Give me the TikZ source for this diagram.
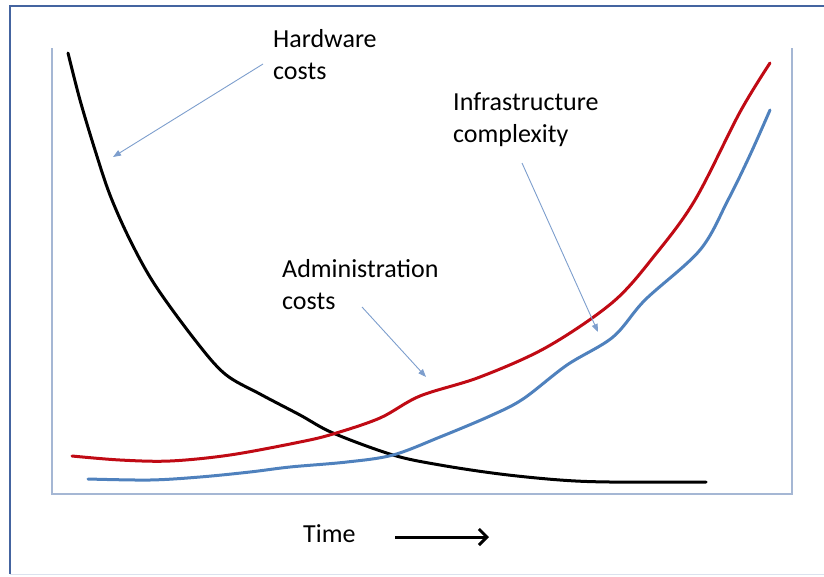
\documentclass[tikz,border=0pt]{standalone}
\usepackage{fontspec}
\setmainfont{Carlito}
\usetikzlibrary{arrows.meta}
\definecolor{frameblue}{RGB}{68,100,160}
\definecolor{axisblue}{RGB}{165,183,212}
\definecolor{curvered}{RGB}{192,10,20}
\definecolor{curveblue}{RGB}{79,129,189}
\definecolor{pointerblue}{RGB}{125,158,205}

\begin{document}
\begin{tikzpicture}[x=1pt,y=-1pt,
  lbl/.style={anchor=north west,inner sep=0pt,align=left,font=\fontsize{26}{32}\selectfont},
  curve/.style={line width=3pt,line cap=round,line join=round},
  pointer/.style={pointerblue,line width=0.9pt,-{Triangle[length=8pt,width=6pt]}}]
\useasboundingbox (0,0) rectangle (824,576);
% draws frames
\draw[frameblue,line width=2.5pt] (830,6) -- (10,6) -- (10,574);
\draw[axisblue!40,line width=1pt] (10,574) -- (830,574);
\draw[axisblue,line width=1.6pt] (52,48) -- (52,494) -- (792,494) -- (792,48);
% draws curves
\draw[curve,black] plot[smooth,tension=0.55] coordinates {(68,53) (80,100) (95,150)
  (110,195) (130,240) (155,285) (195,340) (225,374) (260,394) (300,415) (333,433)
  (393,455) (440,465) (500,474) (560,480) (610,482) (706,482)};
\draw[curve,curvered] plot[smooth,tension=0.55] coordinates {(72,456) (120,460) (170,461)
  (230,455) (300,442) (333,434) (380,418) (420,396) (480,377) (547,347)
  (613,302) (655,255) (695,200) (740,112) (770,63)};
\draw[curve,curveblue] plot[smooth,tension=0.55] coordinates {(88,479) (150,480) (200,477)
  (250,472) (290,467) (347,462) (393,455) (440,437) (490,416) (523,399) (567,365)
  (613,337) (645,300) (700,250) (728,200) (750,155) (770,110)};
% labels
\node[lbl] (hw) at (273,29) {Hardware\\costs};
\node[lbl] (infra) at (453,92) {Infrastructure\\complexity};
\node[lbl] (admin) at (282,259) {Administration\\costs};
\node[lbl] (time) at (303,524) {Time};
% pointer ends
\coordinate (hwfrom) at (263,64);
\coordinate (hwto) at (113,157);
\coordinate (infrafrom) at (522,163);
\coordinate (infrato) at (598,332);
\coordinate (adminfrom) at (362,307);
\coordinate (adminto) at (426,377);
\coordinate (tfrom) at (395,537);
\coordinate (tto) at (489,537);
% draws pointers
\draw[pointer] (hwfrom) -- (hwto);
\draw[pointer] (infrafrom) -- (infrato);
\draw[pointer] (adminfrom) -- (adminto);
\draw[line width=3pt,-{Straight Barb[length=8pt,width=16pt,line width=3pt]}] (tfrom) -- (tto);
\end{tikzpicture}
\end{document}
